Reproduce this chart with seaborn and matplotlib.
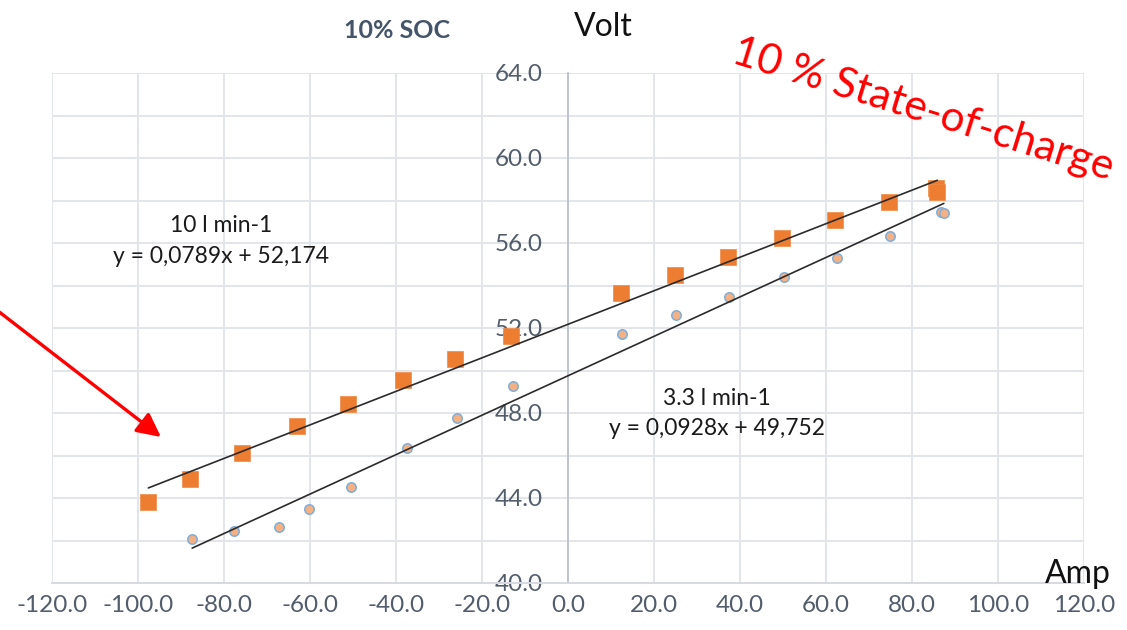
import numpy as np
import pandas as pd
import matplotlib
matplotlib.use("Agg")
import matplotlib.pyplot as plt
from matplotlib.ticker import FuncFormatter, MultipleLocator
import seaborn as sns

# Measured cell voltage vs. current at 10 % state of charge
amp_10 = [-97.6, -87.9, -75.9, -63.1, -51.1, -38.3, -26.3, -13.3,
          12.3, 24.9, 37.2, 49.8, 62.1, 74.7, 85.6, 85.9]
volt_10 = [43.83, 44.88, 46.13, 47.39, 48.42, 49.55, 50.53, 51.62,
           53.65, 54.49, 55.34, 56.24, 57.08, 57.93, 58.57, 58.41]

amp_33 = [-87.4, -77.6, -67.1, -60.2, -50.5, -37.5, -25.7, -12.9,
          12.6, 25.2, 37.5, 50.3, 62.5, 74.9, 86.7, 87.4]
volt_33 = [42.07, 42.46, 42.65, 43.50, 44.53, 46.34, 47.78, 49.27,
           51.70, 52.61, 53.47, 54.40, 55.31, 56.34, 57.47, 57.40]

# Linear trend lines (slope, intercept)
fit_10 = (0.0789, 52.174)
fit_33 = (0.0928, 49.752)

flow_labels = ["10 l min-1", "3.3 l min-1"]
eq_labels = ["y = 0,0789x + 52,174", "y = 0,0928x + 49,752"]

x_ticks = list(range(-120, 121, 20))
y_ticks = list(range(40, 65, 4))

sns.set_theme(style="white")
plt.rcParams["font.family"] = ["Lato", "DejaVu Sans"]

fig = plt.figure(figsize=(11.27, 6.3), dpi=100)
ax = fig.add_axes([52 / 1127, 47 / 630, 1032 / 1127, 510 / 630])

df10 = pd.DataFrame({"Amp": amp_10, "Volt": volt_10})
df33 = pd.DataFrame({"Amp": amp_33, "Volt": volt_33})

sns.scatterplot(data=df10, x="Amp", y="Volt", marker="s", s=118,
                color="#ED7D31", edgecolor="#F08A45", linewidth=0.5,
                ax=ax, zorder=3, clip_on=False)
sns.scatterplot(data=df33, x="Amp", y="Volt", marker="o", s=46,
                color="#F4B183", edgecolor="#7EAEDD", linewidth=1.1,
                ax=ax, zorder=3, clip_on=False)

for xs, (m, b) in ((amp_10, fit_10), (amp_33, fit_33)):
    xl = np.array([min(xs), max(xs)])
    sns.lineplot(x=xl, y=m * xl + b, color="#2B2B2B", linewidth=1.2,
                 ax=ax, zorder=4)

ax.set_xlim(-120, 120)
ax.set_ylim(40, 64)
ax.set_xticks(x_ticks)
ax.set_yticks(y_ticks)
ax.yaxis.set_minor_locator(MultipleLocator(2))
fmt = FuncFormatter(lambda v, p: f"{v:.1f}")
ax.xaxis.set_major_formatter(fmt)
ax.yaxis.set_major_formatter(fmt)

grid_c = "#E2E5EA"
ax.grid(True, which="major", axis="both", color=grid_c, linewidth=1.4, zorder=0)
ax.grid(True, which="minor", axis="y", color=grid_c, linewidth=1.4, zorder=0)
ax.set_axisbelow(True)

for side in ("top", "right"):
    ax.spines[side].set_visible(False)
ax.spines["left"].set_position(("data", 0))
ax.spines["left"].set_color("#B7BFCA")
ax.spines["left"].set_linewidth(1.2)
ax.spines["bottom"].set_color("#D6DAE0")
ax.spines["bottom"].set_linewidth(1.4)

tick_c = "#525D6C"
ax.tick_params(axis="y", which="both", length=0, pad=18, labelsize=17.5,
               labelcolor=tick_c)
ax.tick_params(axis="x", which="both", length=0, pad=9, labelsize=17.5,
               labelcolor=tick_c)
ax.set_xlabel("")
ax.set_ylabel("")

# Trend line labels
ax.text(-80.7, 56.52, flow_labels[0], ha="center", va="baseline",
        fontsize=16.5, color="#1A1A1A")
ax.text(-80.7, 55.06, eq_labels[0], ha="center", va="baseline",
        fontsize=16.5, color="#1A1A1A")
ax.text(34.7, 48.38, flow_labels[1], ha="center", va="baseline",
        fontsize=16.5, color="#1A1A1A")
ax.text(34.7, 46.96, eq_labels[1], ha="center", va="baseline",
        fontsize=16.5, color="#1A1A1A")

# Titles and axis names
fig.text(397 / 1127, 1 - 38 / 630, "10% SOC", ha="center", va="baseline",
         fontsize=18, fontweight="bold", color="#44546A")
fig.text(603 / 1127, 1 - 36 / 630, "Volt", ha="center", va="baseline",
         fontsize=23, color="#111111")
fig.text(1078 / 1127, 1 - 583 / 630, "Amp", ha="center", va="baseline",
         fontsize=23, color="#111111")

fig.text(919 / 1127, 1 - 121 / 630, "10 % State-of-charge", ha="center",
         va="baseline", rotation=-17.3, rotation_mode="anchor",
         fontsize=30.5, color="#FF0000")

ax.annotate("", xy=(161, 630 - 437), xycoords="figure pixels",
            xytext=(-2, 630 - 311), textcoords="figure pixels",
            arrowprops=dict(arrowstyle="-|>,head_length=1.2,head_width=0.6",
                            color="#FF0000", lw=2.4, shrinkA=0, shrinkB=0),
            annotation_clip=False)

fig.savefig("out.png", dpi=100)
